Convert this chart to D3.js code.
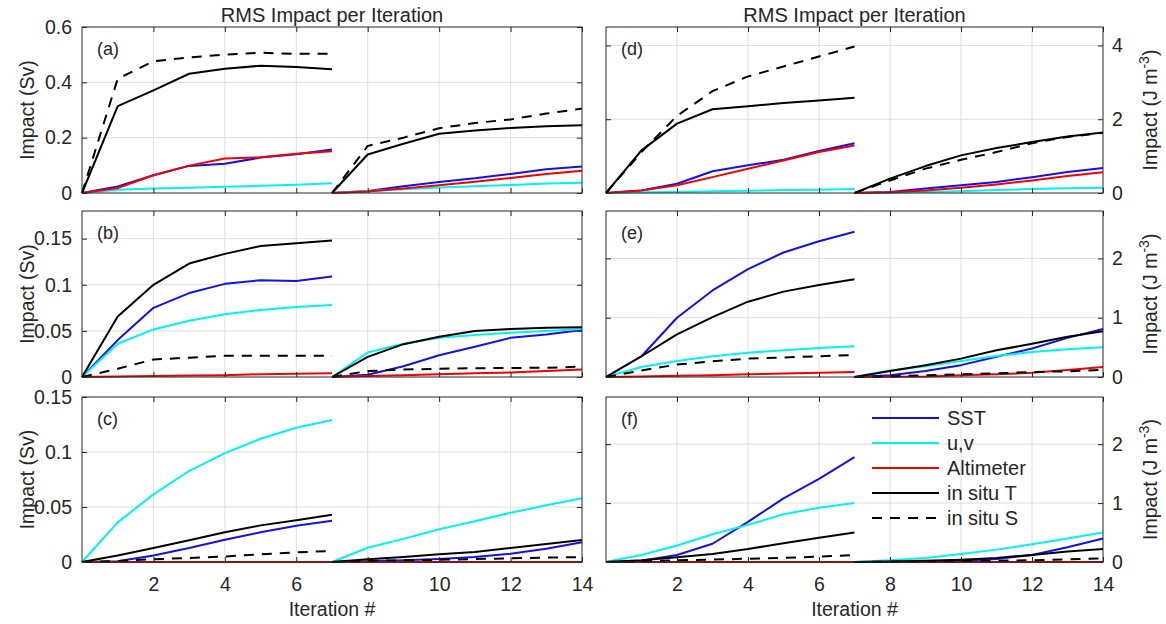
<!DOCTYPE html>
<html><head><meta charset="utf-8">
<script src="https://cdn.jsdelivr.net/npm/d3@7"></script>
<style>
body{margin:0;background:#fff}
svg{display:block}
text{font-family:"Liberation Sans",Arial,Helvetica,sans-serif;fill:#262626}
</style>
</head><body>
<svg id="chart" width="1166" height="624"></svg>
<script>
// ---------- data ----------
const iterRun1 = [0,1,2,3,4,5,6,7];
const iterRun2 = [7,8,9,10,11,12,13,14];
const seriesNames = ["SST","u,v","Altimeter","in situ T","in situ S"];
const xTicks = [2,4,6,8,10,12,14];
const titleText = "RMS Impact per Iteration";
const xLabel = "Iteration #";
const panelLabels = ["(a)","(b)","(c)","(d)","(e)","(f)"];
const yTicksA = [0,0.2,0.4,0.6];
const yTicksB = [0,0.05,0.1,0.15];
const yTicksC = [0,0.05,0.1,0.15];
const yTicksD = [0,2,4];
const yTicksE = [0,1,2];
const yTicksF = [0,1,2];
const yMax = [0.6,0.18,0.15,4.5,2.8,2.8];

// each series: [run 1 (iteration 0-7)], [run 2 (iteration 7-14)]
const a_SST = [[0,0.024,0.064,0.098,0.106,0.128,0.140,0.157],[0,0.007,0.024,0.040,0.053,0.069,0.086,0.096]];
const a_UV  = [[0,0.012,0.016,0.019,0.023,0.026,0.030,0.035],[0,0.007,0.014,0.020,0.024,0.029,0.034,0.037]];
const a_ALT = [[0,0.018,0.064,0.099,0.125,0.129,0.142,0.151],[0,0.005,0.016,0.028,0.041,0.054,0.069,0.080]];
const a_T   = [[0,0.314,0.371,0.431,0.449,0.460,0.455,0.447],[0,0.139,0.178,0.214,0.226,0.235,0.241,0.245]];
const a_S   = [[0,0.413,0.476,0.490,0.500,0.507,0.503,0.503],[0,0.170,0.200,0.234,0.253,0.266,0.287,0.305]];

const b_SST = [[0,0.040,0.075,0.091,0.101,0.105,0.104,0.109],[0,0.0025,0.0116,0.0236,0.0327,0.0425,0.046,0.051]];
const b_UV  = [[0,0.036,0.0516,0.061,0.068,0.0727,0.076,0.078],[0,0.0265,0.036,0.0425,0.0455,0.048,0.050,0.052]];
const b_ALT = [[0,0.0005,0.001,0.0015,0.002,0.003,0.0035,0.004],[0,0.001,0.002,0.003,0.004,0.005,0.0065,0.008]];
const b_T   = [[0,0.0655,0.100,0.123,0.1335,0.142,0.145,0.148],[0,0.0218,0.0356,0.0436,0.050,0.052,0.0535,0.054]];
const b_S   = [[0,0.009,0.019,0.021,0.023,0.023,0.023,0.023],[0,0.0065,0.008,0.009,0.0095,0.0098,0.010,0.0113]];

const c_SST = [[0,0.0006,0.006,0.0127,0.0203,0.027,0.033,0.0376],[0,0.0006,0.0015,0.0027,0.0045,0.0076,0.012,0.018]];
const c_UV  = [[0,0.036,0.0615,0.0827,0.099,0.112,0.122,0.129],[0,0.013,0.021,0.0297,0.037,0.0448,0.0515,0.058]];
const c_ALT = [[0,0,0,0,0,0,0,0],[0,0,0,0,0,0,0,0]];
const c_T   = [[0,0.006,0.0127,0.0197,0.027,0.0333,0.038,0.043],[0,0.0024,0.0045,0.007,0.009,0.0127,0.0164,0.020]];
const c_S   = [[0,0.001,0.0025,0.0036,0.005,0.007,0.0088,0.010],[0,0.001,0.0015,0.002,0.0027,0.0033,0.004,0.0045]];

const d_SST = [[0,0.07,0.25,0.59,0.75,0.90,1.14,1.35],[0,0.03,0.12,0.21,0.30,0.43,0.57,0.68]];
const d_UV  = [[0,0.02,0.03,0.045,0.06,0.08,0.09,0.11],[0,0.01,0.03,0.05,0.08,0.11,0.13,0.14]];
const d_ALT = [[0,0.07,0.21,0.43,0.66,0.88,1.11,1.29],[0,0.02,0.07,0.14,0.23,0.34,0.46,0.56]];
const d_T   = [[0,1.156,1.88,2.27,2.35,2.44,2.51,2.58],[0,0.39,0.73,1.02,1.22,1.38,1.53,1.64]];
const d_S   = [[0,1.11,2.09,2.76,3.16,3.43,3.70,3.97],[0,0.34,0.66,0.90,1.11,1.35,1.52,1.63]];

const e_SST = [[0,0.35,1.00,1.46,1.82,2.10,2.29,2.45],[0,0.03,0.10,0.20,0.34,0.48,0.66,0.81]];
const e_UV  = [[0,0.17,0.27,0.35,0.41,0.45,0.49,0.52],[0,0.11,0.18,0.27,0.355,0.42,0.47,0.50]];
const e_ALT = [[0,0.01,0.02,0.03,0.045,0.06,0.07,0.085],[0,0.005,0.01,0.03,0.045,0.07,0.12,0.17]];
const e_T   = [[0,0.35,0.72,1.01,1.27,1.44,1.55,1.65],[0,0.10,0.20,0.31,0.45,0.56,0.68,0.77]];
const e_S   = [[0,0.11,0.21,0.265,0.31,0.33,0.35,0.37],[0,0.01,0.03,0.045,0.06,0.085,0.095,0.12]];

const f_SST = [[0,0.02,0.12,0.31,0.68,1.08,1.41,1.78],[0,0.005,0.01,0.02,0.05,0.12,0.25,0.40]];
const f_UV  = [[0,0.12,0.28,0.47,0.63,0.81,0.92,1.00],[0,0.03,0.067,0.135,0.21,0.30,0.40,0.50]];
const f_ALT = [[0,0,0,0,0,0,0,0],[0,0,0,0,0,0,0,0]];
const f_T   = [[0,0.03,0.08,0.135,0.22,0.32,0.41,0.50],[0,0.01,0.02,0.04,0.07,0.12,0.18,0.22]];
const f_S   = [[0,0.01,0.03,0.04,0.056,0.07,0.09,0.12],[0,0.005,0.01,0.015,0.02,0.03,0.045,0.06]];

// ---------- styles / layout ----------
const seriesColors = ["#1212e6","#00f2f2","#f20000","#000000","#000000"];
const seriesDash = [null,null,null,null,"10,8"];
const colX = [[82,582],[606,1103]];
const rowY = [[193,27],[377,211],[562,397]];
const FONT = 19.5;

const panels = [
  {label:panelLabels[0], col:0, row:0, ymax:yMax[0], ticks:yTicksA, data:[a_SST,a_UV,a_ALT,a_T,a_S]},
  {label:panelLabels[1], col:0, row:1, ymax:yMax[1], ticks:yTicksB, data:[b_SST,b_UV,b_ALT,b_T,b_S]},
  {label:panelLabels[2], col:0, row:2, ymax:yMax[2], ticks:yTicksC, data:[c_SST,c_UV,c_ALT,c_T,c_S]},
  {label:panelLabels[3], col:1, row:0, ymax:yMax[3], ticks:yTicksD, data:[d_SST,d_UV,d_ALT,d_T,d_S]},
  {label:panelLabels[4], col:1, row:1, ymax:yMax[4], ticks:yTicksE, data:[e_SST,e_UV,e_ALT,e_T,e_S]},
  {label:panelLabels[5], col:1, row:2, ymax:yMax[5], ticks:yTicksF, data:[f_SST,f_UV,f_ALT,f_T,f_S]},
];

const svg = d3.select("#chart");
const axisColor = "#262626";

panels.forEach(p => {
  const x = d3.scaleLinear().domain([0,14]).range(colX[p.col]);
  const y = d3.scaleLinear().domain([0,p.ymax]).range(rowY[p.row]);
  const [x0,x1] = x.range();
  const [yb,yt] = y.range();
  const g = svg.append("g");

  // grid
  const grid = g.append("g").attr("stroke","#dedede").attr("stroke-width",1);
  grid.selectAll("line.v").data(xTicks.filter(t=>t<14)).enter().append("line")
    .attr("x1",d=>x(d)).attr("x2",d=>x(d)).attr("y1",yb).attr("y2",yt);
  grid.selectAll("line.h").data(p.ticks.filter(t=>t>0 && t<p.ymax)).enter().append("line")
    .attr("y1",d=>y(d)).attr("y2",d=>y(d)).attr("x1",x0).attr("x2",x1);

  // data lines
  const line = d3.line().x(d=>x(d[0])).y(d=>y(d[1]));
  p.data.forEach((runs,si) => {
    [iterRun1, iterRun2].forEach((its,ri) => {
      const pts = its.map((it,k)=>[it, runs[ri][k]]);
      g.append("path").datum(pts).attr("d",line)
        .attr("fill","none").attr("stroke",seriesColors[si]).attr("stroke-width",2)
        .attr("stroke-linejoin","round")
        .attr("stroke-dasharray",seriesDash[si]);
    });
  });

  // axes (ticks inward)
  const tl = 5;
  const fmt = d => String(d);
  if (p.col === 0) {
    g.append("g").attr("transform",`translate(${x0},0)`)
      .call(d3.axisLeft(y).tickValues(p.ticks).tickSizeInner(-tl).tickSizeOuter(0).tickPadding(10).tickFormat(fmt));
    g.append("g").attr("transform",`translate(${x1},0)`)
      .call(d3.axisRight(y).tickValues(p.ticks).tickSizeInner(-tl).tickSizeOuter(0).tickFormat(""));
  } else {
    g.append("g").attr("transform",`translate(${x1},0)`)
      .call(d3.axisRight(y).tickValues(p.ticks).tickSizeInner(-tl).tickSizeOuter(0).tickPadding(9).tickFormat(fmt));
    g.append("g").attr("transform",`translate(${x0},0)`)
      .call(d3.axisLeft(y).tickValues(p.ticks).tickSizeInner(-tl).tickSizeOuter(0).tickFormat(""));
  }
  g.append("g").attr("transform",`translate(0,${yb})`)
    .call(d3.axisBottom(x).tickValues(xTicks).tickSizeInner(-tl).tickSizeOuter(0).tickPadding(15)
      .tickFormat(p.row===2 ? fmt : ""));
  g.append("g").attr("transform",`translate(0,${yt})`)
    .call(d3.axisTop(x).tickValues(xTicks).tickSizeInner(-tl).tickSizeOuter(0).tickFormat(""));

  g.selectAll(".domain").remove();
  g.selectAll(".tick line").attr("stroke",axisColor);
  g.selectAll(".tick text").attr("font-size",FONT).attr("fill",axisColor)
    .attr("font-family",'"Liberation Sans",Arial,sans-serif');

  // box
  g.append("rect").attr("x",x0).attr("y",yt).attr("width",x1-x0).attr("height",yb-yt)
    .attr("fill","none").attr("stroke",axisColor).attr("stroke-width",1);

  // panel label
  g.append("text").attr("x",x0+15).attr("y",yt+28).attr("font-size",18).text(p.label);

  // y labels
  const cy = (yb+yt)/2;
  if (p.col === 0) {
    g.append("text").attr("transform",`translate(34,${cy}) rotate(-90)`)
      .attr("text-anchor","middle").attr("font-size",FONT).text("Impact (Sv)");
  } else {
    const t = g.append("text").attr("transform",`translate(1157,${cy}) rotate(-90)`)
      .attr("text-anchor","middle").attr("font-size",FONT);
    t.append("tspan").text("Impact (J m");
    t.append("tspan").attr("font-size",14).attr("dy",-8).text("-3");
    t.append("tspan").attr("dy",8).text(")");
  }
});

// titles and x labels
colX.forEach(r => {
  const cx = (r[0]+r[1])/2;
  svg.append("text").attr("x",cx).attr("y",22).attr("text-anchor","middle")
    .attr("font-size",20).text(titleText);
  svg.append("text").attr("x",cx).attr("y",616).attr("text-anchor","middle")
    .attr("font-size",FONT).text(xLabel);
});

// legend (in panel f)
const lg = svg.append("g");
seriesNames.forEach((name,i) => {
  const yy = 418 + i*25;
  lg.append("line").attr("x1",872).attr("x2",939).attr("y1",yy).attr("y2",yy)
    .attr("stroke",seriesColors[i]).attr("stroke-width",2).attr("stroke-dasharray",seriesDash[i]);
  lg.append("text").attr("x",947).attr("y",yy).attr("dy","0.35em").attr("font-size",20).text(name);
});
</script>
</body></html>
